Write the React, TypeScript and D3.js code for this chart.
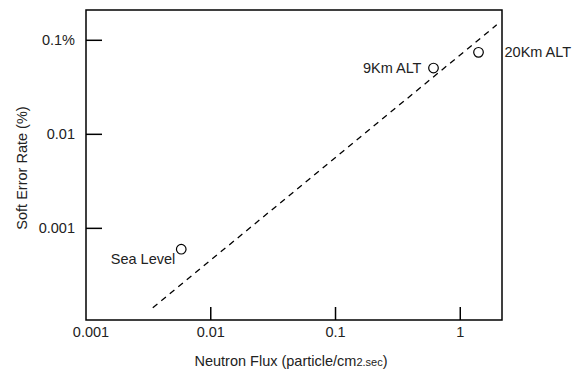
import React from 'react';
import * as d3 from 'd3';

// measured points (neutron flux, soft error rate %)
const pointNames = ['Sea Level', '9Km ALT', '20Km ALT'];
const fluxValues = [0.0058, 0.61, 1.4];
const serValues = [0.0006, 0.0507, 0.0745];

// dashed trend line end points
const trendFlux = [0.00343, 1.96];
const trendSer = [0.000143, 0.146];

const xTicks = [0.001, 0.01, 0.1, 1];
const xTickLabels = ['0.001', '0.01', '0.1', '1'];
const yTicks = [0.001, 0.01, 0.1];
const yTickLabels = ['0.001', '0.01', '0.1%'];

const W = 584;
const H = 371;
const margin = { left: 86, top: 10, right: 82, bottom: 51 };

const App: React.FC = () => {
  const x = d3.scaleLog().domain([0.001, 2.16]).range([margin.left, W - margin.right]);
  const y = d3.scaleLog().domain([0.000106, 0.21]).range([H - margin.bottom, margin.top]);

  const line = d3
    .line<number>()
    .x(d => x(trendFlux[d]))
    .y(d => y(trendSer[d]));

  // label placement relative to each circle
  const labelOffsets = [
    { dx: -6, dy: 15, anchor: 'end' },
    { dx: -12, dy: 5, anchor: 'end' },
    { dx: 26, dy: 5, anchor: 'start' },
  ];

  const font = 'Liberation Sans, Arial, Helvetica, sans-serif';
  const fs = 14.5;
  const bottom = H - margin.bottom;

  return (
    <svg
      width={W}
      height={H}
      style={{ position: 'absolute', left: 0, top: 0, background: '#fff' }}
      fontFamily={font}
    >
      {/* frame */}
      <rect
        x={margin.left}
        y={margin.top}
        width={W - margin.right - margin.left}
        height={bottom - margin.top}
        fill="none"
        stroke="#000"
        strokeWidth={1.5}
      />

      {/* x ticks */}
      {xTicks.map((t, i) => (
        <g key={'x' + i}>
          {i > 0 && (
            <line x1={x(t)} x2={x(t)} y1={bottom} y2={bottom - 13} stroke="#000" strokeWidth={1.5} />
          )}
          <text x={x(t) + (i === 0 ? 5 : 0)} y={bottom + 17} textAnchor="middle" fontSize={fs} fill="#222">
            {xTickLabels[i]}
          </text>
        </g>
      ))}

      {/* y ticks */}
      {yTicks.map((t, i) => (
        <g key={'y' + i}>
          <line x1={margin.left} x2={margin.left + 16} y1={y(t)} y2={y(t)} stroke="#000" strokeWidth={1.5} />
          <text x={margin.left - 11} y={y(t)} dy="0.35em" textAnchor="end" fontSize={fs} fill="#222">
            {yTickLabels[i]}
          </text>
        </g>
      ))}

      {/* trend line */}
      <path
        d={line([0, 1]) || ''}
        fill="none"
        stroke="#000"
        strokeWidth={1.3}
        strokeDasharray="6,5"
      />

      {/* points */}
      {fluxValues.map((f, i) => (
        <g key={'p' + i}>
          <circle cx={x(f)} cy={y(serValues[i])} r={4.8} fill="#fff" stroke="#000" strokeWidth={1.2} />
          <text
            x={x(f) + labelOffsets[i].dx}
            y={y(serValues[i]) + labelOffsets[i].dy}
            textAnchor={labelOffsets[i].anchor as 'start' | 'end'}
            fontSize={fs}
            fill="#222"
          >
            {pointNames[i]}
          </text>
        </g>
      ))}

      {/* axis titles */}
      <text x={291} y={366} textAnchor="middle" fontSize={fs} fill="#222">
        Neutron Flux (particle/cm<tspan fontSize={11}>2.sec</tspan>)
      </text>
      <text
        transform={`translate(27,168) rotate(-90)`}
        textAnchor="middle"
        fontSize={fs}
        fill="#222"
      >
        Soft Error Rate (%)
      </text>
    </svg>
  );
};

export default App;
